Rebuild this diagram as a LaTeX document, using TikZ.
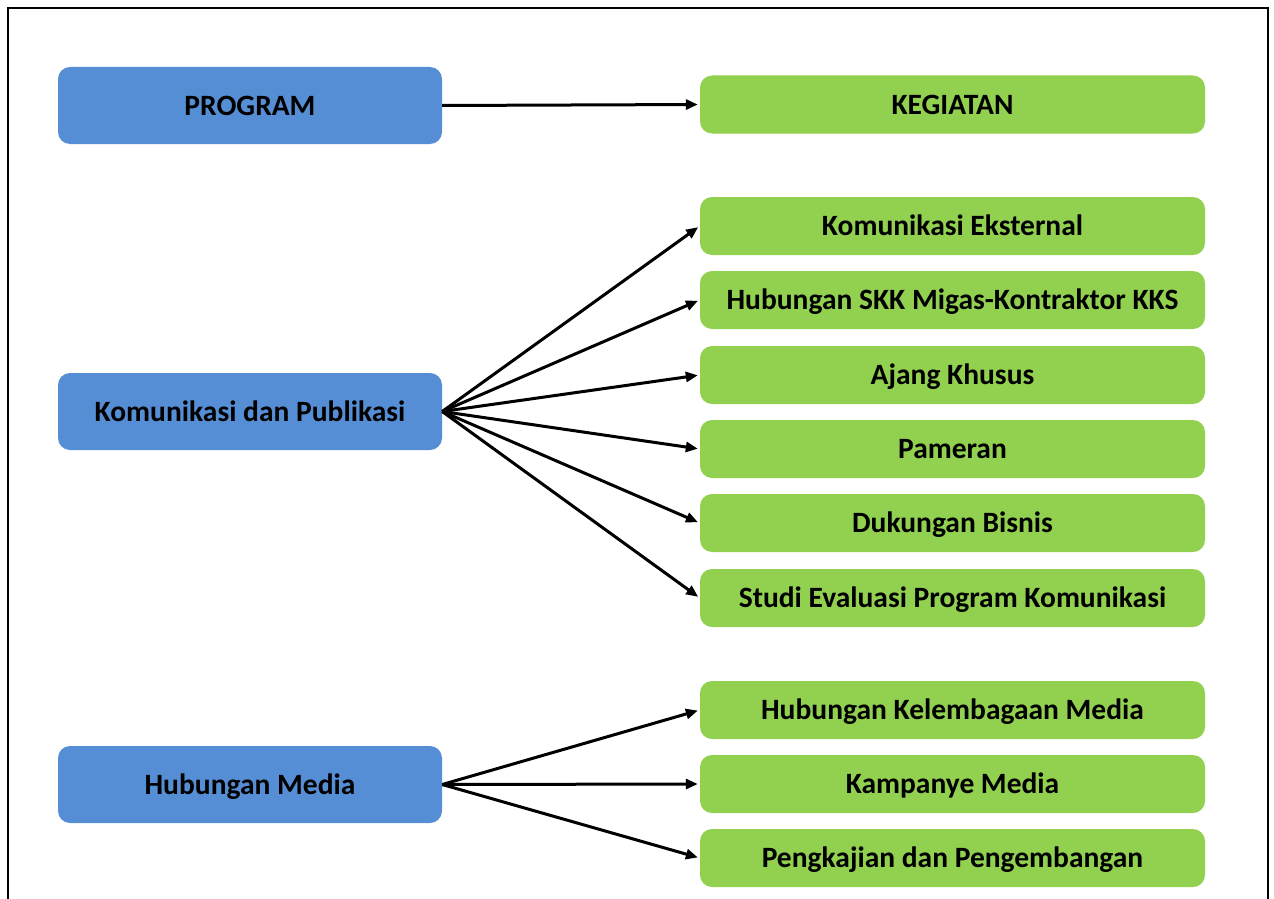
\documentclass[tikz,border=0pt]{standalone}
\usepackage{fontspec}
\setmainfont{Carlito}
\usetikzlibrary{arrows.meta}
\definecolor{progblue}{HTML}{558ED5}
\definecolor{actgreen}{HTML}{92D050}

\begin{document}
\begin{tikzpicture}[x=1pt, y=-1pt,
        every node/.style = {rounded corners=12pt,
            inner sep=0pt, text height=19pt, text depth=0pt,
            font=\fontsize{29.5}{34}\selectfont\bfseries},
        program/.style = {fill=progblue, minimum width=384pt, minimum height=77pt},
        kegiatan/.style = {fill=actgreen, minimum width=505pt, minimum height=58pt},
        link/.style = {-{Triangle[length=12pt,width=10pt]}, line width=3pt, shorten >=2pt}]
    \useasboundingbox (0, 0) rectangle (1274, 899);
    \draw[line width=2pt] (8, 899) -- (8, 8) -- (1268, 8) -- (1268, 899);

    \node[program] (prog) at (250, 105.5) {PROGRAM};
    \node[program] (kompub) at (250, 411.5) {Komunikasi dan Publikasi};
    \node[program] (humas) at (250, 784.5) {Hubungan Media};

    \node[kegiatan] (keg) at (952.5, 104.5) {KEGIATAN};
    \node[kegiatan] (k1) at (952.5, 226) {Komunikasi Eksternal};
    \node[kegiatan] (k2) at (952.5, 300) {Hubungan SKK Migas-Kontraktor KKS};
    \node[kegiatan] (k3) at (952.5, 375) {Ajang Khusus};
    \node[kegiatan] (k4) at (952.5, 449) {Pameran};
    \node[kegiatan] (k5) at (952.5, 523) {Dukungan Bisnis};
    \node[kegiatan] (k6) at (952.5, 598) {Studi Evaluasi Program Komunikasi};
    \node[kegiatan] (m1) at (952.5, 710) {Hubungan Kelembagaan Media};
    \node[kegiatan] (m2) at (952.5, 784) {Kampanye Media};
    \node[kegiatan] (m3) at (952.5, 858) {Pengkajian dan Pengembangan};

    \draw[link] (prog.east) -- (keg.west);
    \foreach \k in {k1, k2, k3, k4, k5, k6}
        \draw[link] (kompub.east) -- (\k.west);
    \foreach \m in {m1, m2, m3}
        \draw[link] (humas.east) -- (\m.west);
\end{tikzpicture}
\end{document}
